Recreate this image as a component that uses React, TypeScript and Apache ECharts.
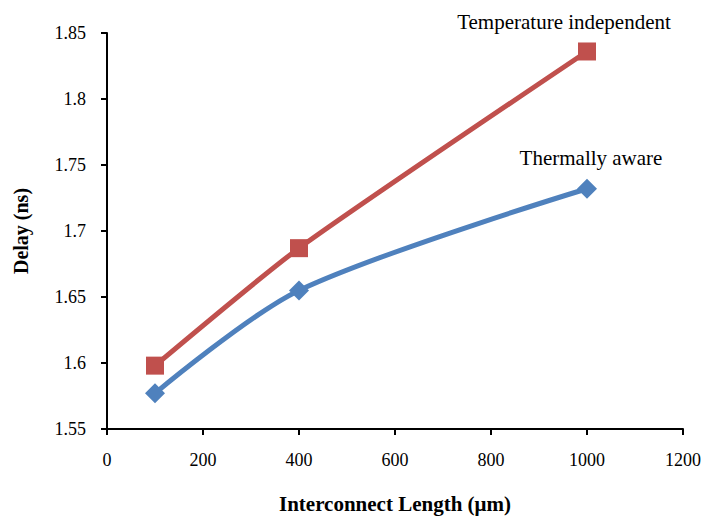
import React, { useEffect, useRef } from "react";
import * as echarts from "echarts";

const lengths = [100, 400, 1000];
const tempIndependent = [1.598, 1.687, 1.836];
const thermallyAware = [1.577, 1.655, 1.732];
const seriesNames = ["Temperature independent", "Thermally aware"];

export default function App() {
  const ref = useRef<HTMLDivElement>(null);
  useEffect(() => {
    if (!ref.current) return;
    const chart = echarts.init(ref.current, null, { renderer: "svg" });
    const font = "Liberation Serif";
    chart.setOption({
      animation: false,
      textStyle: { fontFamily: font },
      grid: { left: 107, right: 20, top: 33, bottom: 87, outerBoundsMode: "none", containLabel: false },
      xAxis: {
        type: "value",
        min: 0,
        max: 1200,
        interval: 200,
        name: "Interconnect Length (μm)",
        nameLocation: "middle",
        nameGap: 64,
        nameTextStyle: { fontFamily: font, fontWeight: "bold", fontSize: 21, color: "#000" },
        axisLine: { lineStyle: { color: "#000", width: 2 } },
        axisTick: { length: 6, lineStyle: { color: "#000", width: 2 } },
        axisLabel: {
          fontFamily: font,
          fontSize: 18,
          color: "#000",
          margin: 22,
          formatter: (v: number) => String(v),
        },
        splitLine: { show: false },
      },
      yAxis: {
        type: "value",
        min: 1.55,
        max: 1.85,
        interval: 0.05,
        name: "Delay (ns)",
        nameLocation: "middle",
        nameGap: 76,
        nameTextStyle: { fontFamily: font, fontWeight: "bold", fontSize: 20, color: "#000" },
        axisLine: { show: true, lineStyle: { color: "#000", width: 2 } },
        axisTick: { show: true, length: 6, lineStyle: { color: "#000", width: 2 } },
        axisLabel: {
          fontFamily: font,
          fontSize: 18,
          color: "#000",
          margin: 21,
          formatter: (v: number) => String(parseFloat(v.toFixed(2))),
        },
        splitLine: { show: false },
      },
      series: [
        {
          name: seriesNames[0],
          type: "line",
          smooth: 0.2,
          data: lengths.map((x, i) => [x, tempIndependent[i]]),
          symbol: "rect",
          symbolSize: 18,
          lineStyle: { color: "#C0504D", width: 5 },
          itemStyle: { color: "#C0504D" },
          label: {
            show: true,
            position: "top",
            distance: 0,
            offset: [-23, -10],
            fontFamily: font,
            fontSize: 21,
            color: "#000",
            formatter: (p: any) => (p.dataIndex === lengths.length - 1 ? seriesNames[0] : ""),
          },
        },
        {
          name: seriesNames[1],
          type: "line",
          smooth: 0.3,
          data: lengths.map((x, i) => [x, thermallyAware[i]]),
          symbol: "diamond",
          symbolSize: 20,
          lineStyle: { color: "#4F81BD", width: 5 },
          itemStyle: { color: "#4F81BD" },
          label: {
            show: true,
            position: "top",
            distance: 0,
            offset: [4, -10],
            fontFamily: font,
            fontSize: 21,
            color: "#000",
            formatter: (p: any) => (p.dataIndex === lengths.length - 1 ? seriesNames[1] : ""),
          },
        },
      ],
    });
    return () => chart.dispose();
  }, []);
  return <div ref={ref} style={{ width: 703, height: 516, position: "absolute", left: 0, top: 0 }} />;
}
